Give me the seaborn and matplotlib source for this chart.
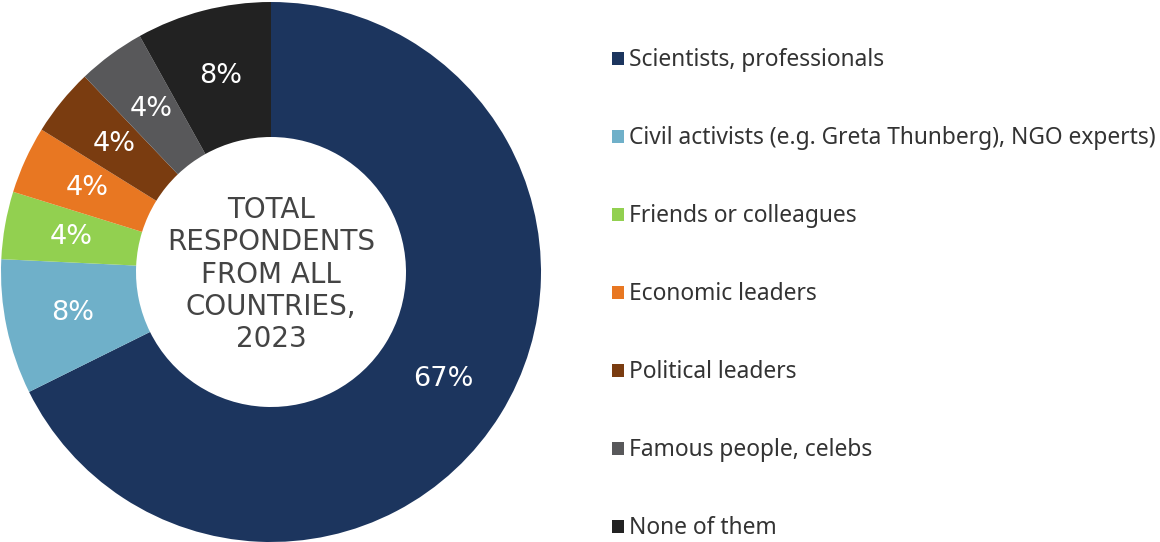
import matplotlib
matplotlib.use("Agg")
import matplotlib.pyplot as plt
import numpy as np
import seaborn as sns

sns.set_theme(style="white")
plt.rcParams['font.family'] = ['Noto Sans', 'DejaVu Sans']

categories = [
    "Scientists, professionals",
    "Civil activists (e.g. Greta Thunberg), NGO experts)",
    "Friends or colleagues",
    "Economic leaders",
    "Political leaders",
    "Famous people, celebs",
    "None of them",
]
shares = [67, 8, 4, 4, 4, 4, 8]
value_labels = ["67%", "8%", "4%", "4%", "4%", "4%", "8%"]
colors = ["#1c355e", "#6fb0c9", "#92d050", "#e87722", "#7a3c10", "#58585a", "#222222"]
center_text = "TOTAL\nRESPONDENTS\nFROM ALL\nCOUNTRIES,\n2023"

fig = plt.figure(figsize=(11.6, 5.42), dpi=100)
ax = fig.add_axes([1 / 1160, 0.0, 540 / 1160, 540 / 542])

wedges, _ = ax.pie(
    shares,
    colors=colors,
    startangle=90,
    counterclock=False,
    radius=1.0,
    wedgeprops=dict(width=0.5, edgecolor="none", linewidth=0),
)

# value labels at mid-ring
for w, lab in zip(wedges, value_labels):
    ang = np.deg2rad((w.theta1 + w.theta2) / 2)
    ax.text(0.75 * np.cos(ang), 0.75 * np.sin(ang), lab,
            ha="center", va="center", color="white", fontsize=19.5,
            family="DejaVu Sans")

ax.text(0, -0.01, center_text, ha="center", va="center", color="#444444",
        fontsize=20, linespacing=1.2, family="DejaVu Sans")
ax.set_xlim(-1, 1)
ax.set_ylim(-1, 1)
ax.set_aspect("equal")
ax.axis("off")

leg = fig.legend(
    wedges, categories,
    loc="upper left", bbox_to_anchor=(0.518, 0.932),
    frameon=False, fontsize=16.4, labelcolor="#333333",
    handlelength=0.5, handleheight=0.5, handletextpad=0.25,
    labelspacing=2.37, borderpad=0,
)

fig.savefig("out.png", dpi=100)
